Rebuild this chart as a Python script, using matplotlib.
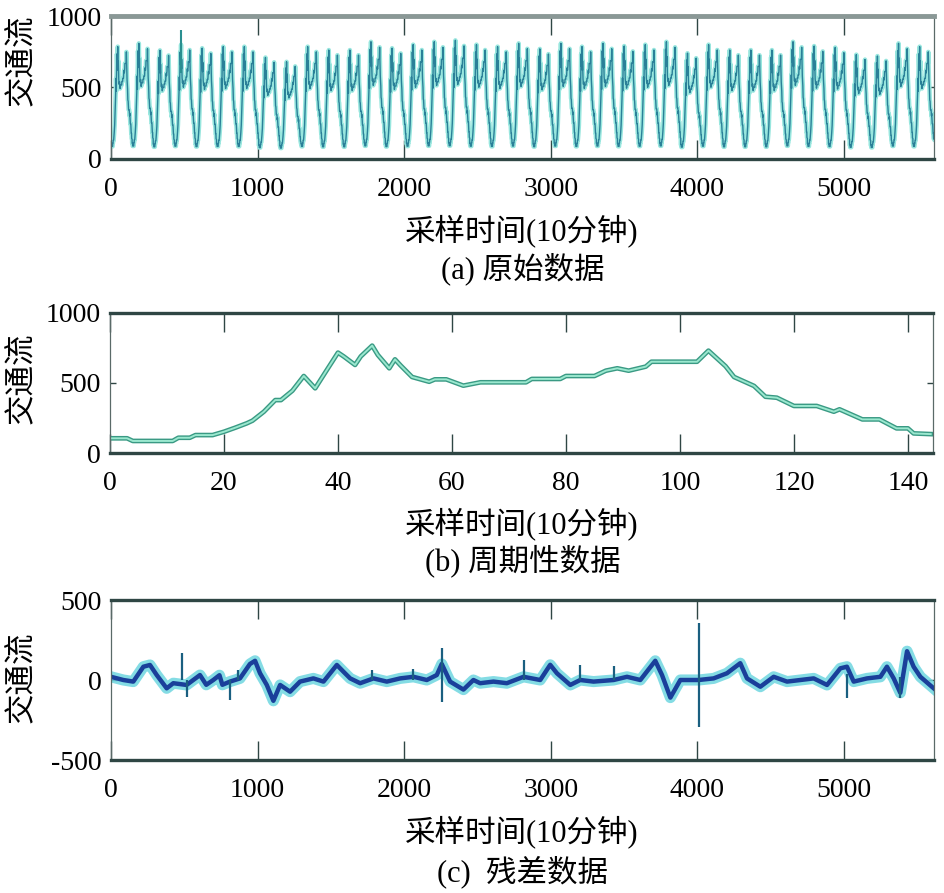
import numpy as np
import matplotlib
matplotlib.use('Agg')
import matplotlib.pyplot as plt

plt.rcParams['font.family'] = ['Liberation Serif', 'Noto Sans CJK SC', 'DejaVu Sans']
plt.rcParams['axes.unicode_minus'] = False

# ---------------- data ----------------
samples_per_day = 144
n_days = 39

# (b) periodic daily profile (sample index, value)
period_x = [0, 3, 4, 11, 12, 14, 15, 18, 20, 22, 24, 25, 27, 29, 30, 32, 34, 36, 38, 40,
            41, 43, 44, 46, 47, 49, 50, 51, 53, 56, 57, 59, 62, 65, 73, 74, 79, 80, 85, 87,
            89, 91, 94, 95, 103, 105, 108, 109.5, 113, 115, 117, 120, 124, 127, 128, 132,
            135, 138, 140, 141, 144]
period_y = [105, 105, 86, 86, 109, 109, 128, 128, 152, 181, 212, 231, 295, 378, 378, 445, 550, 462, 590, 717,
            690, 629, 690, 767, 700, 605, 669, 625, 543, 509, 526, 526, 481, 505, 505, 529, 529, 550, 550, 588,
            605, 588, 617, 652, 652, 731, 620, 543, 479, 402, 395, 336, 336, 295, 312, 240,
            240, 176, 176, 140, 135]

# (a) daily peak level of the raw data
day_peaks = [786, 809, 760, 800, 775, 786, 786, 710, 680, 786, 762, 762, 820, 775, 800, 820, 830, 800, 786, 809,
             770, 809, 786, 809, 790, 800, 820, 740, 800, 762, 762, 762, 820, 790, 780, 730, 720, 809, 786]
raw_spike_x = [480]
raw_spike_lo = [600]
raw_spike_hi = [900]

# (c) residual band (sample index, value)
resid_x = [0, 84, 152, 221, 266, 312, 380, 425, 516, 607, 650, 698, 740, 760, 812, 880, 948, 983, 1017, 1063,
           1108, 1154, 1222, 1290, 1381, 1450, 1541, 1586, 1632, 1700, 1791, 1882, 1973, 2064, 2155, 2223,
           2257, 2314, 2405, 2473, 2519, 2610, 2701, 2815, 2929, 2997, 3043, 3134, 3202, 3293, 3430, 3521,
           3612, 3714, 3760, 3817, 3885, 3976, 4010, 4112, 4203, 4294, 4340, 4431, 4522, 4613, 4704, 4795,
           4886, 4977, 5022, 5068, 5159, 5250, 5295, 5341, 5386, 5432, 5477, 5523, 5614]
resid_y = [20, 0, -10, 83, 94, 31, -52, -20, -31, 31, -30, 0, 30, -30, -10, 10, 100, 120, 42, -31,
           -130, -31, -73, -10, 10, -10, 94, 52, 10, -20, 10, -10, 10, 20, 0, 31,
           100, -10, -60, 0, -20, -10, -20, 20, 0, 95, 42, -31, 0, -10, 0, 20,
           0, 120, 31, -110, 0, 0, 0, 10, 42, 105, 10, -42, 20, -10, 0, 10,
           -31, 73, 83, -10, 10, 20, 83, 10, -80, 180, 83, 20, -52]
spike_x = [482, 516, 812, 869, 1780, 2064, 2257, 2815, 3202, 3430, 4010, 5022, 5386]
spike_lo = [0, -104, -125, 0, 0, 0, -135, 0, 0, 0, -292, -115, -110]
spike_hi = [167, 0, 0, 60, 60, 70, 198, 125, 94, 90, 354, 40, 20]

xlabel_text = '采样时间(10分钟)'
ylabel_text = '交通流'
captions = ['(a) 原始数据', '(b) 周期性数据', '(c)  残差数据']

# ---------------- figure ----------------
W, H = 945, 893
fig = plt.figure(figsize=(W / 100, H / 100), dpi=100)

def fx(px):
    return px / W

def fy(py):
    return 1 - py / H

def make_ax(left, right, top, bottom):
    return fig.add_axes([fx(left), fy(bottom), fx(right) - fx(left), fy(top) - fy(bottom)])

axa = make_ax(111, 934, 16, 159)
axb = make_ax(110, 933, 313, 453)
axc = make_ax(111, 934, 600, 760)

edge = '#2f4644'

def style(ax, top_color=edge, top_lw=2.4):
    for s in ['left', 'right']:
        ax.spines[s].set_linewidth(0.9)
        ax.spines[s].set_color('#5a6a68')
    ax.spines['bottom'].set_linewidth(2.4)
    ax.spines['bottom'].set_color(edge)
    ax.spines['top'].set_linewidth(top_lw)
    ax.spines['top'].set_color(top_color)
    ax.tick_params(axis='x', direction='in', length=14, width=1.0, color=edge,
                   top=True, bottom=True, labelsize=20, pad=13)
    ax.tick_params(axis='y', direction='in', length=4, width=1.0, color=edge,
                   left=True, right=True, labelsize=20, pad=7)

# (a) raw data
pmax = max(period_y)
px_arr = np.array(period_x, dtype=float)
py_arr = np.array(period_y, dtype=float)
raw_x = np.concatenate([px_arr + samples_per_day * d for d in range(n_days)])
raw_y = np.concatenate([py_arr * day_peaks[d] / pmax for d in range(n_days)])
axa.plot(raw_x, raw_y, color='#98e6de', lw=3.2, solid_joinstyle='round')
axa.plot(raw_x, raw_y, color='#2a8098', lw=1.0, solid_joinstyle='round')
axa.vlines(raw_spike_x, raw_spike_lo, raw_spike_hi, color='#2a8f90', lw=1.5)
axa.set_xlim(0, n_days * samples_per_day)
axa.set_ylim(0, 1000)
axa.set_xticks([0, 1000, 2000, 3000, 4000, 5000])
axa.set_yticks([0, 500, 1000])
style(axa, top_color='#8a9896', top_lw=3.5)

# (b) periodic
axb.plot(period_x, period_y, color='#3a9a84', lw=3.4, solid_joinstyle='round')
axb.plot(period_x, period_y, color='#9be8cf', lw=1.4, solid_joinstyle='round')
axb.set_xlim(0, 144.4)
axb.set_ylim(0, 1000)
axb.set_xticks([0, 20, 40, 60, 80, 100, 120, 140])
axb.set_yticks([0, 500, 1000])
style(axb)

# (c) residual
axc.plot(resid_x, resid_y, color='#6fd6e0', lw=8, alpha=0.85, solid_joinstyle='round')
axc.plot(resid_x, resid_y, color='#1a3f9a', lw=3.2, solid_joinstyle='round')
axc.vlines(spike_x, spike_lo, spike_hi, color='#1a5f80', lw=1.6)
axc.set_xlim(0, n_days * samples_per_day)
axc.set_ylim(-500, 500)
axc.set_xticks([0, 1000, 2000, 3000, 4000, 5000])
axc.set_yticks([-500, 0, 500])
style(axc)

# labels
for ycen in [231, 524, 832]:
    fig.text(fx(522), fy(ycen), xlabel_text, ha='center', va='center', fontsize=22)
for cap, ycen in zip(captions, [269, 561, 872]):
    fig.text(fx(523), fy(ycen), cap, ha='center', va='center', fontsize=22)
for ycen in [60, 378, 677]:
    fig.text(fx(22), fy(ycen), ylabel_text, ha='center', va='center', fontsize=22, rotation=90)

fig.savefig('out.png', dpi=100)
